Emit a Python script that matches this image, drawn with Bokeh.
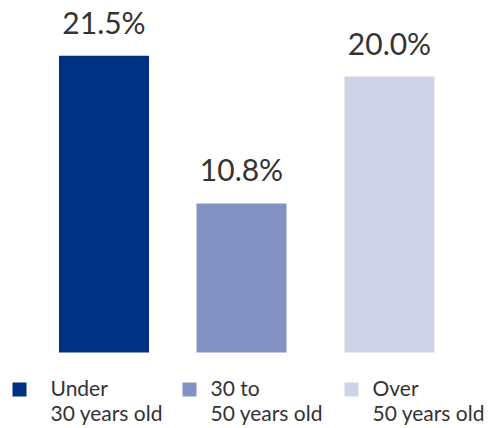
from bokeh.plotting import figure
from bokeh.models import Range1d, ColumnDataSource
from bokeh.core.properties import value
from bokeh.embed import file_html
from bokeh.resources import INLINE

# Share of respondents by age group (%)
groups = ["Under 30 years old", "30 to 50 years old", "Over 50 years old"]
shares = [21.5, 10.8, 20.0]
value_labels = ["21.5%", "10.8%", "20.0%"]
legend_line1 = ["Under", "30 to", "Over"]
legend_line2 = ["30 years old", "50 years old", "50 years old"]
colors = ["#003082", "#8391C3", "#D0D3E8"]

W, H = 492, 428
FONT = "Lato"
TEXT_COLOR = "#333333"

# vertical scale: pixels per percentage point, and the zero line measured from the bottom
PX_PER_UNIT = 13.8
ZERO_FROM_BOTTOM = 76

def y_at(px_from_top):
    """Convert a pixel row (from top) into a y value of the plot."""
    return (H - px_from_top - ZERO_FROM_BOTTOM) / PX_PER_UNIT

bar_x = [103.5, 241.0, 389.0]
bar_w = 90

p = figure(width=W, height=H, output_backend="svg", toolbar_location=None,
           x_range=Range1d(0, W),
           y_range=Range1d(-ZERO_FROM_BOTTOM / PX_PER_UNIT, (H - ZERO_FROM_BOTTOM) / PX_PER_UNIT),
           min_border=0)
p.axis.visible = False
p.grid.visible = False
p.outline_line_color = None
p.background_fill_color = "white"
p.border_fill_color = "white"

src = ColumnDataSource(dict(x=bar_x, top=shares, color=colors, label=value_labels))
p.vbar(x="x", top="top", bottom=0, width=bar_w, color="color", line_color=None, source=src)
p.text(x="x", y="top", text="label", source=src, y_offset=-34,
       text_align="center", text_baseline="alphabetic",
       text_font=value(FONT), text_font_size="30px", text_color=TEXT_COLOR)

# legend: colour swatch + two-line label per group
sw_left = [12, 182, 344]
txt_left = [50, 210, 372]
sw = 14
sw_top = 382
p.rect(x=[l + sw / 2 for l in sw_left], y=[y_at(sw_top + sw / 2)] * 3,
       width=sw, height=sw / PX_PER_UNIT, color=colors, line_color=None)
p.text(x=txt_left, y=[y_at(387)] * 3, text=legend_line1,
       text_align="left", text_baseline="alphabetic",
       text_font=value(FONT), text_font_size="21px", text_color=TEXT_COLOR)
p.text(x=txt_left, y=[y_at(412)] * 3, text=legend_line2,
       text_align="left", text_baseline="alphabetic",
       text_font=value(FONT), text_font_size="21px", text_color=TEXT_COLOR)

open("out.html", "w").write(file_html(p, INLINE))
